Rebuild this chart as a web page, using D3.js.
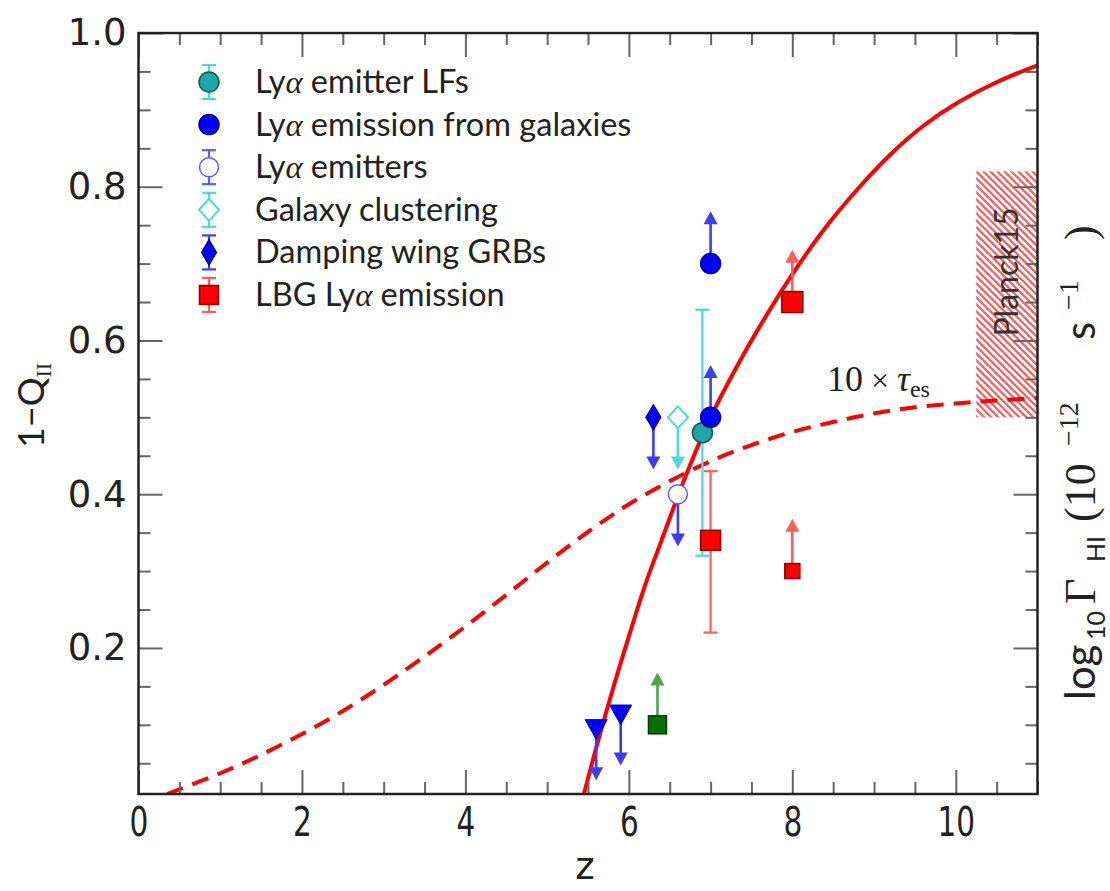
<!DOCTYPE html>
<html>
<head>
<meta charset="utf-8">
<script src="https://cdn.jsdelivr.net/npm/d3@7"></script>
<style>
  body { margin: 0; background: #fff; }
  svg { display: block; }
</style>
</head>
<body>
<svg id="chart" width="1110" height="891"></svg>
<script>
// ---------------- data ----------------
const xTickValues = [0, 2, 4, 6, 8, 10];
const yTickValues = [0.2, 0.4, 0.6, 0.8, 1.0];

const legendLabels = [
  ["Ly", "α", " emitter LFs"],
  ["Ly", "α", " emission from galaxies"],
  ["Ly", "α", " emitters"],
  ["Galaxy clustering", "", ""],
  ["Damping wing GRBs", "", ""],
  ["LBG Ly", "α", " emission"]
];

// model neutral fraction 1-Q_II versus redshift
const neutralZ = [5.45, 5.6, 5.8, 6.0, 6.2, 6.4, 6.7, 7.0, 7.3, 7.6, 8.0, 8.4, 8.8, 9.2, 9.6, 10.0, 10.5, 11.0];
const neutralV = [0.01, 0.07, 0.145, 0.215, 0.282, 0.34, 0.425, 0.50, 0.562, 0.618, 0.686, 0.746, 0.797, 0.842, 0.879, 0.908, 0.936, 0.958];

// 10 x electron scattering optical depth
const tauZ = [0.35, 1.0, 1.5, 2.0, 2.5, 3.0, 3.5, 4.0, 4.5, 5.0, 5.5, 6.0, 6.5, 7.0, 7.5, 8.0, 8.5, 9.0, 9.5, 10.0, 10.5, 11.0];
const tauV = [0.01, 0.037, 0.061, 0.088, 0.118, 0.152, 0.189, 0.228, 0.269, 0.311, 0.351, 0.387, 0.417, 0.443, 0.464, 0.481, 0.494, 0.505, 0.513, 0.518, 0.522, 0.525];

// Planck15 10 x tau band
const planckZ = [10.25, 11.0];
const planckBand = [0.50, 0.82];

// Lya emitter LFs (with error bar)
const lfZ = [6.9];
const lfV = [0.48];
const lfLo = [0.32];
const lfHi = [0.64];

// Lya emission from galaxies (lower limits)
const emisZ = [7.0, 7.0];
const emisV = [0.70, 0.50];

// Lya emitters (upper limit)
const laeZ = [6.6];
const laeV = [0.40];

// Galaxy clustering (upper limit)
const clusZ = [6.6];
const clusV = [0.50];

// Damping wing GRBs (upper limit)
const grbZ = [6.3];
const grbV = [0.50];

// LBG Lya emission
const lbgZ = [7.0];
const lbgV = [0.34];
const lbgLo = [0.22];
const lbgHi = [0.43];
const lbgLimZ = [8.0];          // lower limit
const lbgLimV = [0.65];
const lbgFaintZ = [8.0];        // smaller lower limit
const lbgFaintV = [0.30];

// green lower limit
const greenZ = [6.35];
const greenV = [0.10];

// quasar dark-gap upper limits
const triZ = [5.6, 5.9];
const triV = [0.096, 0.115];

// ---------------- layout ----------------
const svg = d3.select("#chart");
const L = 138.5, R = 1037.5, T = 33, B = 794;
const x = d3.scaleLinear().domain([0, 11]).range([L, R]);
const y = d3.scaleLinear().domain([0.01, 1.0]).range([B, T]);
const limitLen = 0.068;

const C = {
  red: "#ff0000", redLight: "#ff5c5c", redEdge: "#8a0000",
  blue: "#0000ff", blueLight: "#3c3cff", blueOpen: "#5a5aff",
  teal: "#1fa6a6", tealEdge: "#0c5c5c", cyan: "#4fd8d8",
  green: "#007000", greenEdge: "#063a06", greenLight: "#4aa64a",
  frame: "#222", tick: "#666", text: "#222"
};

const defs = svg.append("defs");
defs.append("clipPath").attr("id", "plotclip")
  .append("rect").attr("x", L).attr("y", T).attr("width", R - L).attr("height", B - T);

const hatch = defs.append("pattern")
  .attr("id", "hatch").attr("patternUnits", "userSpaceOnUse")
  .attr("width", 7).attr("height", 7);
hatch.append("rect").attr("width", 7).attr("height", 7).attr("fill", "#fff");
hatch.append("path").attr("d", "M-1,-1 L8,8 M-4.5,2.5 L4.5,11.5 M2.5,-4.5 L11.5,4.5")
  .attr("stroke", "#ff5a5a").attr("stroke-width", 2.2);

const plot = svg.append("g").attr("clip-path", "url(#plotclip)");

// Planck15 band
plot.append("rect")
  .attr("x", x(planckZ[0])).attr("width", x(planckZ[1]) - x(planckZ[0]))
  .attr("y", y(planckBand[1])).attr("height", y(planckBand[0]) - y(planckBand[1]))
  .attr("fill", "url(#hatch)");

// curves
const line = d3.line().curve(d3.curveCatmullRom.alpha(0.5)).x(d => x(d[0])).y(d => y(d[1]));
plot.append("path").datum(d3.zip(tauZ, tauV)).attr("d", line)
  .attr("fill", "none").attr("stroke", C.red).attr("stroke-width", 4)
  .attr("stroke-dasharray", "17,10");
plot.append("path").datum(d3.zip(neutralZ, neutralV)).attr("d", line)
  .attr("fill", "none").attr("stroke", C.red).attr("stroke-width", 4);

// ---------------- helpers for marks ----------------
function errorBar(g, px, y0, y1, color) {
  g.append("line").attr("x1", px).attr("x2", px).attr("y1", y0).attr("y2", y1)
    .attr("stroke", color).attr("stroke-width", 2.2);
  [y0, y1].forEach(v => g.append("line").attr("x1", px - 7).attr("x2", px + 7)
    .attr("y1", v).attr("y2", v).attr("stroke", color).attr("stroke-width", 2.2));
}
function limitArrow(g, px, py0, py1, color) {
  const dir = py1 < py0 ? -1 : 1;
  g.append("line").attr("x1", px).attr("x2", px).attr("y1", py0).attr("y2", py1 - dir * 8)
    .attr("stroke", color).attr("stroke-width", 2.6);
  g.append("path")
    .attr("d", `M${px},${py1} L${px - 7},${py1 - dir * 13} L${px + 7},${py1 - dir * 13} Z`)
    .attr("fill", color);
}
function marker(g, type, px, py, fill, stroke, s) {
  if (type === "circle") {
    g.append("circle").attr("cx", px).attr("cy", py).attr("r", s)
      .attr("fill", fill).attr("stroke", stroke).attr("stroke-width", 1.5);
  } else if (type === "square") {
    g.append("rect").attr("x", px - s / 2).attr("y", py - s / 2).attr("width", s).attr("height", s)
      .attr("fill", fill).attr("stroke", stroke).attr("stroke-width", 1.5);
  } else if (type === "diamond") {
    g.append("path").attr("d", `M${px},${py - s * 1.1} L${px + s},${py} L${px},${py + s * 1.1} L${px - s},${py} Z`)
      .attr("fill", fill).attr("stroke", stroke).attr("stroke-width", 2);
  } else if (type === "thindiamond") {
    g.append("path").attr("d", `M${px},${py - s * 1.7} L${px + s},${py} L${px},${py + s * 1.7} L${px - s},${py} Z`)
      .attr("fill", fill).attr("stroke", stroke).attr("stroke-width", 1.2);
  } else if (type === "tridown") {
    g.append("path").attr("d", `M${px - s},${py - s * 0.75} L${px + s},${py - s * 0.75} L${px},${py + s * 1.05} Z`)
      .attr("fill", fill).attr("stroke", stroke).attr("stroke-width", 1);
  }
}

const marks = svg.append("g");

// quasar triangles (upper limits)
triZ.forEach((z, i) => {
  limitArrow(marks, x(z), y(triV[i]), y(triV[i] - limitLen), C.blueLight);
  marker(marks, "tridown", x(z), y(triV[i]), C.blue, "#0000aa", 11);
});

// green lower limit
greenZ.forEach((z, i) => {
  limitArrow(marks, x(z), y(greenV[i]), y(greenV[i] + limitLen), C.greenLight);
  marker(marks, "square", x(z), y(greenV[i]), C.green, C.greenEdge, 18);
});

// LBG Lya emission
lbgZ.forEach((z, i) => {
  errorBar(marks, x(z), y(lbgLo[i]), y(lbgHi[i]), C.redLight);
});
lbgLimZ.forEach((z, i) => {
  limitArrow(marks, x(z), y(lbgLimV[i]), y(lbgLimV[i] + limitLen), C.redLight);
});
lbgFaintZ.forEach((z, i) => {
  limitArrow(marks, x(z), y(lbgFaintV[i]), y(lbgFaintV[i] + limitLen), C.redLight);
  marker(marks, "square", x(z), y(lbgFaintV[i]), C.red, C.redEdge, 15);
});

// Lya emitter LFs error bar
lfZ.forEach((z, i) => errorBar(marks, x(z), y(lfLo[i]), y(lfHi[i]), C.cyan));

// Damping wing GRBs
grbZ.forEach((z, i) => {
  limitArrow(marks, x(z), y(grbV[i]), y(grbV[i] - limitLen), C.blueLight);
  marker(marks, "thindiamond", x(z), y(grbV[i]), C.blue, "#00008a", 7.5);
});

// Galaxy clustering
clusZ.forEach((z, i) => {
  limitArrow(marks, x(z), y(clusV[i]), y(clusV[i] - limitLen), C.cyan);
  marker(marks, "diamond", x(z), y(clusV[i]), "#fff", C.cyan, 10);
});

// Lya emitters
laeZ.forEach((z, i) => {
  limitArrow(marks, x(z), y(laeV[i]), y(laeV[i] - limitLen), C.blueLight);
  marker(marks, "circle", x(z), y(laeV[i]), "#fff", C.blueOpen, 9.5);
});

// Lya emission from galaxies
emisZ.forEach((z, i) => {
  limitArrow(marks, x(z), y(emisV[i]), y(emisV[i] + limitLen), C.blueLight);
});
lfZ.forEach((z, i) => marker(marks, "circle", x(z), y(lfV[i]), C.teal, C.tealEdge, 10));
emisZ.forEach((z, i) => marker(marks, "circle", x(z), y(emisV[i]), C.blue, "#00008a", 10));

// LBG squares on top
lbgZ.forEach((z, i) => marker(marks, "square", x(z), y(lbgV[i]), C.red, C.redEdge, 20));
lbgLimZ.forEach((z, i) => marker(marks, "square", x(z), y(lbgLimV[i]), C.red, C.redEdge, 21));

// ---------------- axes ----------------
const minorX = d3.range(0, 11.001, 0.5).filter(v => Math.abs(v / 2 - Math.round(v / 2)) > 1e-6);
const minorY = d3.range(1, 20).map(i => i * 0.05).filter(v => Math.abs(v / 0.2 - Math.round(v / 0.2)) > 1e-6);

function styleTicks(g) {
  g.select(".domain").remove();
  g.selectAll(".tick line").attr("stroke", C.tick).attr("stroke-width", 2);
}

const axBottom = svg.append("g").attr("transform", `translate(0,${B})`)
  .call(d3.axisBottom(x).tickValues(xTickValues).tickSizeInner(-24).tickSizeOuter(0).tickPadding(20).tickFormat(d3.format("d")));
styleTicks(axBottom);
axBottom.selectAll(".tick text").attr("font-family", "DejaVu Sans").attr("font-size", 40)
  .attr("fill", C.text).attr("dy", "0.71em").attr("y", 14).attr("transform", "scale(0.74,1)");

svg.append("g").attr("transform", `translate(0,${B})`)
  .call(d3.axisBottom(x).tickValues(minorX).tickSizeInner(-12).tickSizeOuter(0).tickFormat(""))
  .call(styleTicks);
svg.append("g").attr("transform", `translate(0,${T})`)
  .call(d3.axisTop(x).tickValues(xTickValues).tickSizeInner(-24).tickSizeOuter(0).tickFormat(""))
  .call(styleTicks);
svg.append("g").attr("transform", `translate(0,${T})`)
  .call(d3.axisTop(x).tickValues(minorX).tickSizeInner(-12).tickSizeOuter(0).tickFormat(""))
  .call(styleTicks);

const axLeft = svg.append("g").attr("transform", `translate(${L},0)`)
  .call(d3.axisLeft(y).tickValues(yTickValues).tickSizeInner(-24).tickSizeOuter(0).tickPadding(12).tickFormat(d3.format(".1f")));
styleTicks(axLeft);
axLeft.selectAll(".tick text").attr("font-family", "DejaVu Sans").attr("font-size", 37)
  .attr("fill", C.text);

svg.append("g").attr("transform", `translate(${L},0)`)
  .call(d3.axisLeft(y).tickValues(minorY).tickSizeInner(-12).tickSizeOuter(0).tickFormat(""))
  .call(styleTicks);
svg.append("g").attr("transform", `translate(${R},0)`)
  .call(d3.axisRight(y).tickValues(yTickValues).tickSizeInner(-24).tickSizeOuter(0).tickFormat(""))
  .call(styleTicks);
svg.append("g").attr("transform", `translate(${R},0)`)
  .call(d3.axisRight(y).tickValues(minorY).tickSizeInner(-12).tickSizeOuter(0).tickFormat(""))
  .call(styleTicks);

// frame
svg.append("rect").attr("x", L).attr("y", T).attr("width", R - L).attr("height", B - T)
  .attr("fill", "none").attr("stroke", C.frame).attr("stroke-width", 2.5);

// ---------------- annotations ----------------
// Planck15 label
svg.append("text")
  .attr("transform", `translate(1018,272) rotate(-90)`)
  .attr("text-anchor", "middle").attr("font-family", "Lato").attr("font-size", 32)
  .attr("fill", "#333").text("Planck15");

// 10 x tau label
const tauLbl = svg.append("text").attr("x", 827).attr("y", 391)
  .attr("font-family", "Liberation Serif").attr("font-size", 36).attr("fill", "#222");
tauLbl.append("tspan").text("10");
tauLbl.append("tspan").text(" × ").attr("font-size", 32);
tauLbl.append("tspan").text("τ").attr("font-style", "italic");
tauLbl.append("tspan").text("es").attr("font-size", 24).attr("dy", 6);

// x-axis label
svg.append("text").attr("x", (L + R) / 2 - 3).attr("y", 879)
  .attr("text-anchor", "middle").attr("font-family", "DejaVu Sans").attr("font-size", 37)
  .attr("fill", C.text).text("z");

// left axis label
const ylab = svg.append("text")
  .attr("transform", `translate(44,${(T + B) / 2 - 8}) rotate(-90)`)
  .attr("text-anchor", "middle").attr("font-family", "Lato").attr("font-size", 36).attr("fill", C.text);
ylab.append("tspan").text("1−Q");
ylab.append("tspan").text("II").attr("font-family", "Liberation Serif").attr("font-size", 22).attr("dy", 7);

// right axis label: pieces placed along the rotated baseline (x = -screen y)
const rlab = svg.append("text")
  .attr("transform", `translate(1095,0) rotate(-90)`)
  .attr("font-family", "Lato").attr("font-size", 42).attr("fill", C.text);
const rParts = [
  { t: "log", at: 700, dy: 0, size: 42, serif: false },
  { t: "10", at: 640, dy: 10, size: 25, serif: false },
  { t: "Γ", at: 604, dy: 0, size: 44, serif: true },
  { t: "HI", at: 562, dy: 10, size: 25, serif: false },
  { t: "(10", at: 522, dy: 0, size: 44, serif: true },
  { t: "−12", at: 446, dy: -17, size: 28, serif: true },
  { t: "s", at: 340, dy: 0, size: 42, serif: false },
  { t: "−1", at: 310, dy: -17, size: 28, serif: true },
  { t: ")", at: 240, dy: 0, size: 44, serif: true }
];
rParts.forEach(p => {
  rlab.append("tspan").attr("x", -p.at).attr("y", p.dy)
    .attr("font-size", p.size)
    .attr("font-family", p.serif ? "Liberation Serif" : "Lato")
    .text(p.t);
});

// ---------------- legend ----------------
const legend = svg.append("g");
const lgX = 209, lgY0 = 82, lgDy = 42.6;
const legendMarks = [
  g => { errorBar(g, lgX, -17, 17, C.cyan); marker(g, "circle", lgX, 0, C.teal, C.tealEdge, 10); },
  g => { marker(g, "circle", lgX, 0, C.blue, "#00008a", 10); },
  g => { errorBar(g, lgX, -17, 17, C.blueOpen); marker(g, "circle", lgX, 0, "#fff", C.blueOpen, 9.5); },
  g => { errorBar(g, lgX, -17, 17, C.cyan); marker(g, "diamond", lgX, 0, "#fff", C.cyan, 10); },
  g => { errorBar(g, lgX, -17, 17, C.blueLight); marker(g, "thindiamond", lgX, 0, C.blue, "#00008a", 7.5); },
  g => { errorBar(g, lgX, -17, 17, C.redLight); marker(g, "square", lgX, 0, C.red, C.redEdge, 19); }
];
legendLabels.forEach((parts, i) => {
  const g = legend.append("g").attr("transform", `translate(0,${lgY0 + i * lgDy})`);
  legendMarks[i](g);
  const t = g.append("text").attr("x", 255).attr("y", 11)
    .attr("font-family", "Lato").attr("font-size", 32.5).attr("fill", C.text);
  t.append("tspan").text(parts[0]);
  if (parts[1]) t.append("tspan").text(parts[1]).attr("font-family", "Liberation Serif").attr("font-style", "italic");
  if (parts[2]) t.append("tspan").text(parts[2]);
});
</script>
</body>
</html>
